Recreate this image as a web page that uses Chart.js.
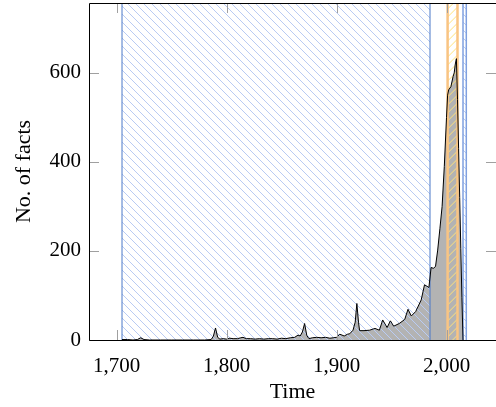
<!DOCTYPE html>
<html>
<head>
<meta charset="utf-8">
<script src="https://cdn.jsdelivr.net/npm/chart.js@4/dist/chart.umd.min.js"></script>
<style>
  html, body { margin: 0; padding: 0; background: #fff; }
  #wrap { width: 496px; height: 407px; }
</style>
</head>
<body>
<div id="wrap"><canvas id="chart_factsOverTime"></canvas></div>
<script>
// facts per year
var years = [1705, 1710, 1715, 1719, 1722, 1725, 1730, 1740, 1750, 1760, 1770, 1780, 1786, 1788, 1790, 1792, 1794, 1797,
  1800, 1803, 1806, 1810, 1813, 1815, 1818, 1822, 1826, 1830, 1834, 1838, 1842, 1846, 1850, 1854, 1858, 1862, 1865, 1867, 1869, 1871, 1873, 1875, 1878, 1882, 1886, 1890, 1894, 1897,
  1900, 1903, 1907, 1910, 1912, 1915, 1917, 1918.5, 1920, 1921, 1925, 1930, 1935, 1939, 1942, 1946, 1949, 1952, 1957, 1962, 1965, 1968, 1972, 1977, 1980, 1984, 1986, 1988, 1990, 1992, 1994, 1996, 1998,
  2000, 2001, 2002, 2004, 2006, 2007, 2008, 2009, 2010, 2011, 2012, 2013, 2014, 2015];
var facts = [1, 1, 0, 1, 5, 1, 0, 0, 0, 0, 0, 0, 1, 8, 27, 6, 2, 3,
  2, 4, 3, 3, 5, 6, 3, 3, 2, 3, 2, 3, 3, 2, 4, 3, 5, 6, 11, 9, 18, 37, 10, 3, 5, 6, 5, 6, 4, 5,
  6, 13, 9, 13, 14, 22, 40, 82, 40, 21, 21, 22, 26, 22, 45, 28, 43, 31, 37, 46, 69, 54, 64, 90, 124, 118, 163, 161, 165, 202, 250, 300, 390,
  500, 550, 562, 569, 592, 600, 620, 632, 540, 430, 320, 205, 95, 0];

// hatched periods
var periodStart = [1705, 2001, 2015];
var periodEnd = [1985, 2010, 2018];

var xTicks = [1700, 1800, 1900, 2000];
var yTicks = [0, 200, 400, 600];

var periodLook = [
  { line: '#4a78c8', lineWidth: 1, hatch: '#b9cbf3', dir: -1 },
  { line: '#f9c483', lineWidth: 2.5, hatch: '#ffe27a', dir: 1 },
  { line: '#7fa0e0', lineWidth: 1.5, hatch: '#b9cbf3', dir: -1 }
];

Chart.defaults.font.family = "'Liberation Serif', 'DejaVu Serif', serif";
Chart.defaults.color = '#000';

var points = years.map(function (y, i) { return { x: y, y: facts[i] }; });

var hatchPlugin = {
  id: 'hatchPeriods',
  beforeDatasetDraw: function (chart, args) {
    if (args.index !== 0) return;
    var ctx = chart.ctx, a = chart.chartArea;
    var xs = chart.scales.x;
    ctx.save();
    ctx.beginPath();
    ctx.rect(a.left, a.top, a.right - a.left, a.bottom - a.top);
    ctx.clip();
    for (var i = 0; i < periodStart.length; i++) {
      var look = periodLook[i];
      var x0 = xs.getPixelForValue(periodStart[i]);
      var x1 = xs.getPixelForValue(periodEnd[i]);
      var h = a.bottom - a.top;
      ctx.save();
      ctx.beginPath();
      ctx.rect(x0, a.top, x1 - x0, h);
      ctx.clip();
      ctx.strokeStyle = look.hatch;
      ctx.lineWidth = 1;
      ctx.beginPath();
      for (var s = x0 - h - 10; s < x1 + h + 10; s += 8) {
        if (look.dir < 0) {
          ctx.moveTo(s, a.top);
          ctx.lineTo(s + h, a.bottom);
        } else {
          ctx.moveTo(s, a.bottom);
          ctx.lineTo(s + h, a.top);
        }
      }
      ctx.stroke();
      ctx.restore();
      ctx.strokeStyle = look.line;
      ctx.lineWidth = look.lineWidth;
      ctx.beginPath();
      ctx.moveTo(x0, a.top); ctx.lineTo(x0, a.bottom);
      ctx.moveTo(x1, a.top); ctx.lineTo(x1, a.bottom);
      ctx.stroke();
    }
    ctx.restore();
  },
  afterDatasetsDraw: function (chart) {
    var ctx = chart.ctx, a = chart.chartArea;
    var xs = chart.scales.x, ys = chart.scales.y;
    var len = 10;
    ctx.save();
    ctx.strokeStyle = '#a0a0a0';
    ctx.lineWidth = 1;
    ctx.beginPath();
    xTicks.forEach(function (v) {
      var px = Math.round(xs.getPixelForValue(v)) + 0.5;
      ctx.moveTo(px, a.bottom); ctx.lineTo(px, a.bottom - len);
      ctx.moveTo(px, a.top); ctx.lineTo(px, a.top + len);
    });
    yTicks.forEach(function (v) {
      var py = Math.round(ys.getPixelForValue(v)) + 0.5;
      ctx.moveTo(a.left, py); ctx.lineTo(a.left + len, py);
      ctx.moveTo(a.right, py); ctx.lineTo(a.right - len, py);
    });
    ctx.stroke();
    // axis box: left, top, bottom (right edge falls outside the picture)
    var l = Math.round(a.left) + 0.5, t = Math.round(a.top) + 0.5, b = Math.round(a.bottom) + 0.5;
    ctx.strokeStyle = '#000';
    ctx.beginPath();
    ctx.moveTo(a.right + 2, t); ctx.lineTo(l, t); ctx.lineTo(l, b); ctx.lineTo(a.right + 2, b);
    ctx.stroke();
    ctx.restore();
  }
};

var chart_factsOverTime = new Chart(document.getElementById('chart_factsOverTime'), {
  type: 'line',
  data: {
    datasets: [
      {
        label: 'No. of facts',
        data: points,
        borderColor: '#000',
        borderWidth: 1,
        backgroundColor: '#b3b3b3',
        fill: 'origin',
        tension: 0,
        pointRadius: 0
      }
    ]
  },
  options: {
    animation: false,
    responsive: true,
    maintainAspectRatio: false,
    layout: { padding: { top: 3, left: 0, right: 0, bottom: 0 } },
    plugins: {
      legend: { display: false },
      tooltip: { enabled: false }
    },
    scales: {
      x: {
        type: 'linear',
        min: 1675,
        max: 2045,
        grid: { display: false, drawTicks: false },
        border: { display: false },
        afterBuildTicks: function (scale) {
          scale.ticks = xTicks.map(function (v) { return { value: v }; });
        },
        afterFit: function (scale) {
          scale.height = 67;
          scale.paddingLeft = 0; scale.paddingRight = 0;
        },
        ticks: {
          font: { size: 21 },
          padding: 14,
          maxRotation: 0,
          callback: function (v) { return Number(v).toLocaleString('en-US'); }
        },
        title: {
          display: true,
          text: 'Time',
          font: { size: 22 },
          padding: { top: 0, bottom: 2 }
        }
      },
      y: {
        type: 'linear',
        min: 0,
        max: 757,
        grid: { display: false, drawTicks: false },
        border: { display: false },
        afterBuildTicks: function (scale) {
          scale.ticks = yTicks.map(function (v) { return { value: v }; });
        },
        afterFit: function (scale) {
          scale.width = 89;
          scale.paddingTop = 0; scale.paddingBottom = 0;
        },
        ticks: {
          font: { size: 21 },
          padding: 8
        },
        title: {
          display: true,
          text: 'No. of facts',
          font: { size: 22 },
          padding: { top: 11, bottom: 0 }
        }
      }
    }
  },
  plugins: [hatchPlugin]
});
</script>
</body>
</html>
